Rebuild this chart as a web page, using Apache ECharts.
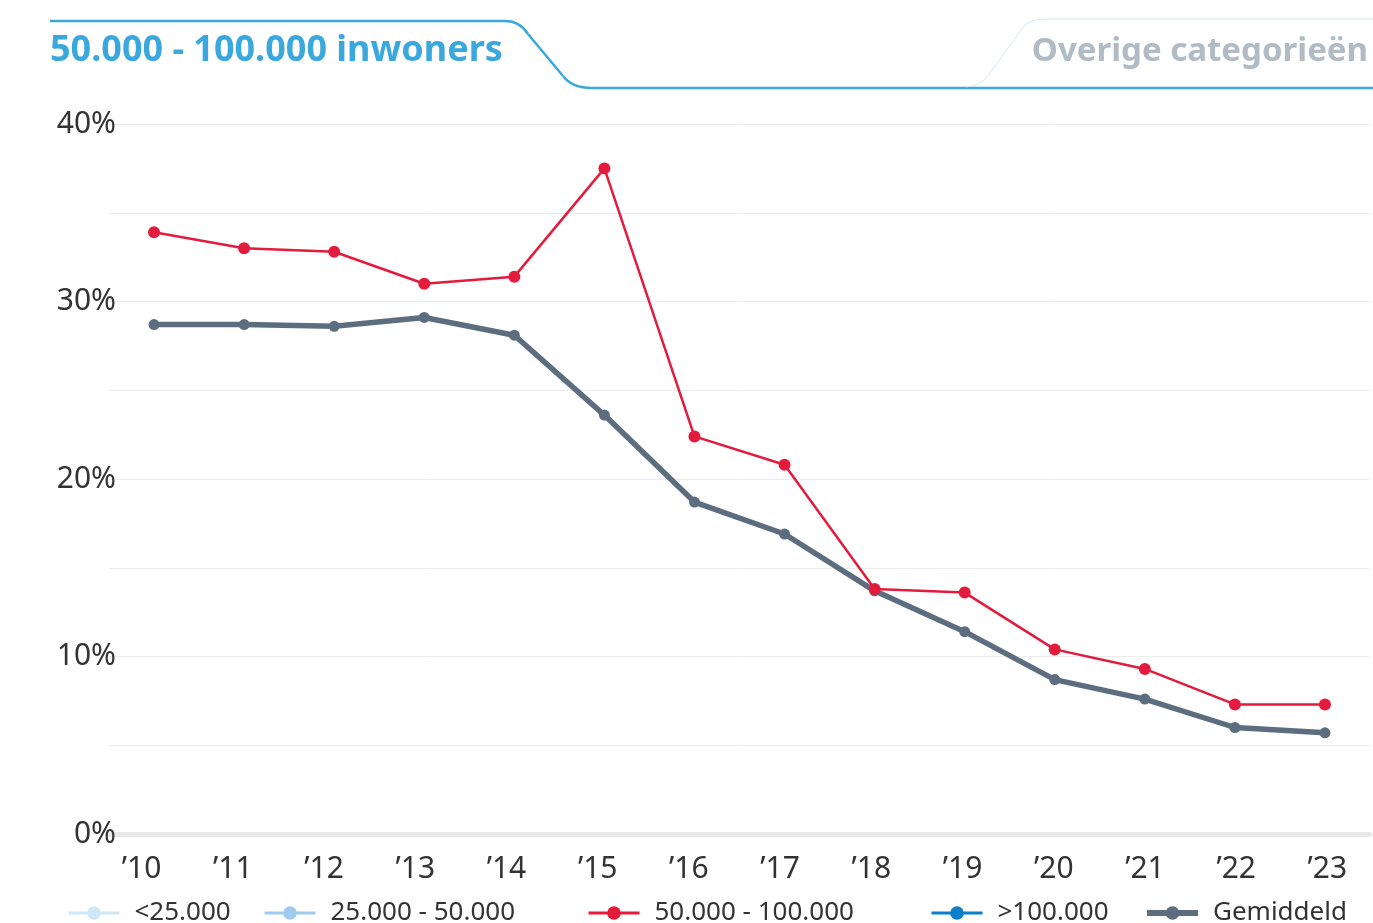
<!DOCTYPE html>
<html>
<head>
<meta charset="utf-8">
<script src="https://cdn.jsdelivr.net/npm/echarts@6/dist/echarts.min.js"></script>
<style>
  html, body { margin: 0; padding: 0; background: #fff; }
  #chart { width: 1373px; height: 923px; }
</style>
</head>
<body>
<div id="chart"></div>
<script>
// jaren
const years = ['’10', '’11', '’12', '’13', '’14', '’15', '’16', '’17', '’18', '’19', '’20', '’21', '’22', '’23']
// 50.000 - 100.000 inwoners (%)
const middenGroot = [33.9, 33.0, 32.8, 31.0, 31.4, 37.5, 22.4, 20.8, 13.8, 13.6, 10.4, 9.3, 7.3, 7.3]
// gemiddelde (%)
const gemiddeld = [28.7, 28.7, 28.6, 29.1, 28.1, 23.6, 18.7, 16.9, 13.7, 11.4, 8.7, 7.6, 6.0, 5.7]
// niet getoonde categorieen, alleen in legenda
const klein = []
const middel = []
const groot = []
const legendNames = ['<25.000', '25.000 - 50.000', '50.000 - 100.000', '>100.000', 'Gemiddeld']
const legendLeft = [67, 263, 587, 930, 1144]
const legendLine = [3, 3, 3, 3, 6]
const activeTab = '50.000 - 100.000 inwoners'
const otherTab = 'Overige categorieën'

const chart = echarts.init(document.getElementById('chart'))

const font = '"Noto Sans", sans-serif'
const blauw = { stroke: '#3aa8dc', lineWidth: 2.5, fill: 'none' }
const lichtblauw = { stroke: '#cfe6f5', lineWidth: 1, fill: 'none' }

chart.setOption({
  animation: false,
  textStyle: { fontFamily: font },
  grid: [
    { left: 109, right: 3, top: 124, bottom: 89 },
    // alleen voor de jaartallen (die staan iets anders verdeeld)
    { left: 96, right: 0, top: 124, bottom: 89 }
  ],
  legend: legendNames.map((n, i) => ({
    data: [n],
    left: legendLeft[i],
    top: 900,
    padding: 0,
    itemWidth: 51,
    itemHeight: 17,
    lineStyle: { width: legendLine[i] },
    textStyle: { fontSize: 26, color: '#333', fontFamily: font, padding: [0, 0, 0, 10] }
  })),
  graphic: [
    // actieve tab
    { type: 'line', shape: { x1: 50, y1: 21, x2: 505, y2: 21 }, style: blauw },
    { type: 'bezierCurve', shape: { x1: 505, y1: 21, cpx1: 520, cpy1: 21, x2: 528, y2: 34 }, style: blauw },
    { type: 'line', shape: { x1: 528, y1: 34, x2: 563, y2: 76 }, style: blauw },
    { type: 'bezierCurve', shape: { x1: 563, y1: 76, cpx1: 572, cpy1: 88, x2: 592, y2: 88 }, style: blauw },
    { type: 'line', shape: { x1: 592, y1: 88, x2: 1373, y2: 88 }, style: blauw },
    // andere tab
    { type: 'bezierCurve', shape: { x1: 966, y1: 87, cpx1: 980, cpy1: 86, x2: 988, y2: 76 }, style: lichtblauw },
    { type: 'line', shape: { x1: 988, y1: 76, x2: 1024, y2: 26 }, style: lichtblauw },
    { type: 'bezierCurve', shape: { x1: 1024, y1: 26, cpx1: 1031, cpy1: 19, x2: 1046, y2: 19 }, style: lichtblauw },
    { type: 'line', shape: { x1: 1046, y1: 19, x2: 1373, y2: 19 }, style: lichtblauw },
    {
      type: 'text',
      x: 50, y: 51,
      style: { text: activeTab, fill: '#3aa8dc', font: 'bold 36px ' + font, verticalAlign: 'middle' }
    },
    {
      type: 'text',
      x: 1368, y: 52,
      style: { text: otherTab, fill: '#b1bbc5', font: 'bold 33px ' + font, align: 'right', verticalAlign: 'middle' }
    }
  ],
  xAxis: [
    {
      type: 'category',
      gridIndex: 0,
      data: years,
      boundaryGap: true,
      axisTick: { show: false },
      axisLine: { show: true, lineStyle: { color: '#e8e8e8', width: 5 } },
      axisLabel: { show: false }
    },
    {
      type: 'category',
      gridIndex: 1,
      data: years,
      boundaryGap: true,
      axisTick: { show: false },
      axisLine: { show: false },
      axisLabel: { fontSize: 30, color: '#333', margin: 20, fontFamily: font }
    }
  ],
  yAxis: [
    {
      type: 'value',
      gridIndex: 0,
      min: 0,
      max: 40,
      interval: 5,
      axisLine: { show: false },
      axisTick: { show: false },
      splitLine: { lineStyle: { color: '#ececec', width: 1 } },
      axisLabel: {
        fontSize: 30,
        color: '#333',
        margin: -7,
        padding: [6, 0, 0, 0],
        fontFamily: font,
        formatter: v => (v % 10 === 0 ? v + '%' : '')
      }
    },
    { type: 'value', gridIndex: 1, min: 0, max: 40, show: false, splitLine: { show: false } }
  ],
  series: [
    {
      name: '<25.000', type: 'line', data: klein,
      color: '#cfe8f8', symbol: 'circle', symbolSize: 11, lineStyle: { width: 3 }
    },
    {
      name: '25.000 - 50.000', type: 'line', data: middel,
      color: '#9fcbef', symbol: 'circle', symbolSize: 11, lineStyle: { width: 3 }
    },
    {
      name: '50.000 - 100.000', type: 'line', data: middenGroot,
      color: '#e31b3c', symbol: 'circle', symbolSize: 12, lineStyle: { width: 2.5 }, z: 3
    },
    {
      name: '>100.000', type: 'line', data: groot,
      color: '#0b7fcc', symbol: 'circle', symbolSize: 11, lineStyle: { width: 3 }
    },
    {
      name: 'Gemiddeld', type: 'line', data: gemiddeld,
      color: '#5d6d80', symbol: 'circle', symbolSize: 11, lineStyle: { width: 5.5 }, z: 2
    }
  ]
})
</script>
</body>
</html>
